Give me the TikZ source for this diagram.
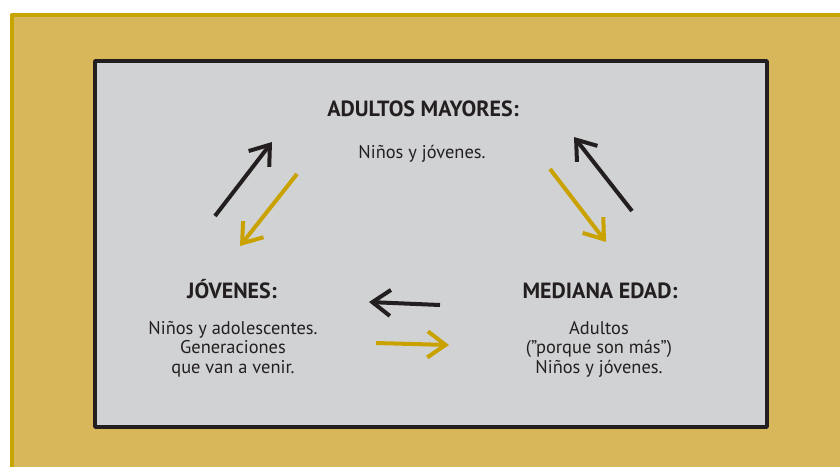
\documentclass[tikz,border=0pt]{standalone}
\usepackage{fontspec}
\setmainfont{PT Sans}
\usetikzlibrary{arrows.meta}
\definecolor{fondo}{HTML}{D8B75B}
\definecolor{borde}{HTML}{C8A400}
\definecolor{gris}{HTML}{D1D2D4}
\definecolor{negro}{HTML}{231F20}
\definecolor{oro}{HTML}{C9A200}
\begin{document}
\begin{tikzpicture}[x=1pt, y=-1pt, line join=round, >={Straight Barb[length=18pt,width=26pt]},
		titulo/.style={font=\bfseries\fontsize{22}{26}\selectfont, text=negro, anchor=base},
		texto/.style={font=\fontsize{18.4}{19.6}\selectfont, align=center, text=negro},
		flecha/.style={->, line width=4pt}]
				\useasboundingbox (0,0) rectangle (840,467);
				% marco y caja
				\fill[fondo] (10,14) rectangle (840,467);
				\draw[borde, line width=4pt] (12,467) -- (12,15) -- (840,15);
				\draw[negro, line width=3.5pt, fill=gris] (95,61) rectangle (767,427);
				% grupos
				\node[titulo] (M) at (423,116) {ADULTOS MAYORES:};
				\node[texto, anchor=base] (Mt) at (422,158.5) {Niños y jóvenes.};
				\node[titulo] (J) at (232,298.5) {JÓVENES:};
				\node[texto] (Jt) at (233,349) {Niños y adolescentes.\\Generaciones\\que van a venir.};
				\node[titulo] (E) at (600,298.5) {MEDIANA EDAD:};
				\node[texto] (Et) at (599,349) {Adultos\\(”porque son más”)\\Niños y jóvenes.};
				% extremos de las flechas
				\coordinate (a1) at (215,216); \coordinate (a2) at (272,142);
				\coordinate (b1) at (297,174); \coordinate (b2) at (240,246);
				\coordinate (c1) at (632,211); \coordinate (c2) at (574,137);
				\coordinate (d1) at (550,169); \coordinate (d2) at (606,242);
				\coordinate (e1) at (440,305); \coordinate (e2) at (369,302);
				\coordinate (f1) at (376,343); \coordinate (f2) at (449,345);
				\draw[flecha, negro] (a1) -- (a2);
				\draw[flecha, oro] (b1) -- (b2);
				\draw[flecha, negro] (c1) -- (c2);
				\draw[flecha, oro] (d1) -- (d2);
				\draw[flecha, negro] (e1) -- (e2);
				\draw[flecha, oro] (f1) -- (f2);
\end{tikzpicture}
\end{document}
